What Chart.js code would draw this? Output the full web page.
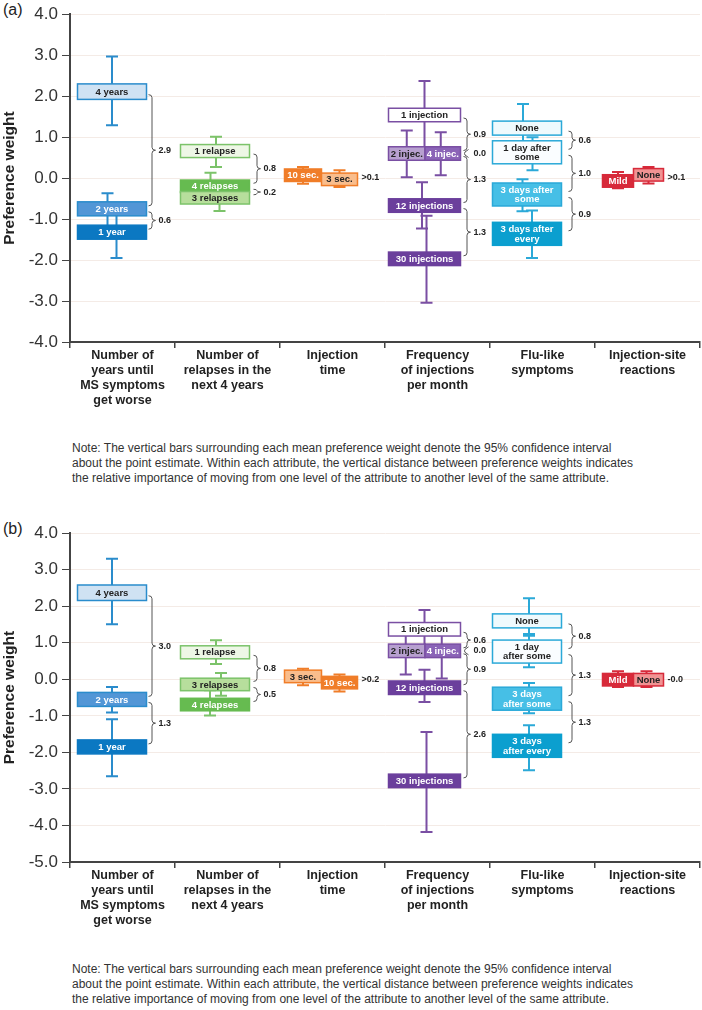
<!DOCTYPE html>
<html>
<head>
<meta charset="utf-8">
<script src="https://cdn.jsdelivr.net/npm/chart.js@4.4.1/dist/chart.umd.min.js"></script>
<style>
  html, body { margin: 0; padding: 0; background: #fff; }
  body { width: 702px; height: 1010px; position: relative; overflow: hidden; font-family: "Liberation Sans", Arial, sans-serif; }
  .panel { position: absolute; left: 0; width: 702px; }
  .tag { position: absolute; left: 3px; font-size: 16px; line-height: 20px; color: #222; }
  .note { position: absolute; left: 72px; font-size: 12px; line-height: 15px; color: #333; white-space: nowrap; }
</style>
</head>
<body>
<div class="tag" style="top:0">(a)</div>
<div class="panel" style="top:0;height:422px"><canvas id="chartA"></canvas></div>
<div class="note" style="top:441px">Note: The vertical bars surrounding each mean preference weight denote the 95% confidence interval<br>about the point estimate. Within each attribute, the vertical distance between preference weights indicates<br>the relative importance of moving from one level of the attribute to another level of the same attribute.</div>

<div class="tag" style="top:519px">(b)</div>
<div class="panel" style="top:519px;height:423px"><canvas id="chartB"></canvas></div>
<div class="note" style="top:962px">Note: The vertical bars surrounding each mean preference weight denote the 95% confidence interval<br>about the point estimate. Within each attribute, the vertical distance between preference weights indicates<br>the relative importance of moving from one level of the attribute to another level of the same attribute.</div>

<script>
// attributes (x categories)
const attributes = [
  ['Number of', 'years until', 'MS symptoms', 'get worse'],
  ['Number of', 'relapses in the', 'next 4 years'],
  ['Injection', 'time'],
  ['Frequency', 'of injections', 'per month'],
  ['Flu-like', 'symptoms'],
  ['Injection-site', 'reactions']
];

// panel (a)
const rangeA = [-4, 4];
const levelsA = [
  ['4 years', '2 years', '1 year'],
  ['1 relapse', '4 relapses', '3 relapses'],
  ['10 sec.', '3 sec.'],
  ['1 injection', '2 injec.', '4 injec.', '12 injections', '30 injections'],
  ['None', '1 day after\nsome', '3 days after\nsome', '3 days after\nevery'],
  ['Mild', 'None']
];
const meansA = [
  [2.11, -0.75, -1.32],
  [0.66, -0.20, -0.48],
  [0.07, -0.03],
  [1.54, 0.60, 0.60, -0.67, -1.97],
  [1.22, 0.63, -0.40, -1.36],
  [-0.07, 0.08]
];
const lowA = [
  [1.29, -1.30, -1.95],
  [0.27, -0.50, -0.80],
  [-0.14, -0.22],
  [0.70, 0.02, 0.07, -1.23, -3.04],
  [0.80, 0.19, -0.81, -1.95],
  [-0.25, -0.13]
];
const highA = [
  [2.97, -0.37, -0.75],
  [1.01, 0.13, -0.20],
  [0.27, 0.19],
  [2.37, 1.16, 1.12, -0.10, -0.92],
  [1.81, 1.00, -0.03, -0.79],
  [0.15, 0.27]
];
const diffsA = [
  ['2.9', '0.6'],
  ['0.8', '0.2'],
  ['>0.1'],
  ['0.9', '0.0', '1.3', '1.3'],
  ['0.6', '1.0', '0.9'],
  ['>0.1']
];

// panel (b)
const rangeB = [-5, 4];
const levelsB = [
  ['4 years', '2 years', '1 year'],
  ['1 relapse', '3 relapses', '4 relapses'],
  ['3 sec.', '10 sec.'],
  ['1 injection', '2 injec.', '4 injec.', '12 injections', '30 injections'],
  ['None', '1 day\nafter some', '3 days\nafter some', '3 days\nafter every'],
  ['Mild', 'None']
];
const meansB = [
  [2.37, -0.55, -1.85],
  [0.74, -0.14, -0.69],
  [0.08, -0.09],
  [1.37, 0.78, 0.78, -0.23, -2.78],
  [1.60, 0.76, -0.53, -1.82],
  [-0.01, -0.01]
];
const lowB = [
  [1.51, -0.91, -2.65],
  [0.42, -0.45, -0.99],
  [-0.16, -0.33],
  [0.90, 0.13, 0.02, -0.62, -4.18],
  [1.19, 0.33, -0.93, -2.49],
  [-0.21, -0.21]
];
const highB = [
  [3.30, -0.21, -1.09],
  [1.07, 0.17, -0.30],
  [0.29, 0.13],
  [1.90, 1.28, 1.28, 0.26, -1.44],
  [2.22, 1.24, -0.10, -1.26],
  [0.22, 0.22]
];
const diffsB = [
  ['3.0', '1.3'],
  ['0.8', '0.5'],
  ['>0.2'],
  ['0.6', '0.0', '0.9', '2.6'],
  ['0.8', '1.3', '1.3'],
  ['-0.0']
];

// ---- styles ----
const SANS = '"Liberation Sans", Arial, sans-serif';

const attrColors = ['#2a8ccc', '#7cc36a', '#f07d28', '#7a4fa3', '#2ba9d8', '#d72a3a'];
// [fill, text, stroke]
const levelStyles = [
  { '4 years': ['#cfe2f3', '#222', '#2a8ccc'], '2 years': ['#5296d6', '#fff', '#2a8ccc'], '1 year': ['#0b78c2', '#fff', '#0b78c2'] },
  { '1 relapse': ['#eef7e6', '#222', '#7cc36a'], '4 relapses': ['#66bb50', '#fff', '#66bb50'], '3 relapses': ['#b7de9c', '#222', '#7cc36a'] },
  { '10 sec.': ['#f07d28', '#fff', '#f07d28'], '3 sec.': ['#f9bd8c', '#222', '#f07d28'] },
  { '1 injection': ['#ffffff', '#222', '#7a4fa3'], '2 injec.': ['#b7a0cf', '#222', '#7a4fa3'], '4 injec.': ['#8b64b7', '#fff', '#7a4fa3'],
    '12 injections': ['#6b3f9c', '#fff', '#6b3f9c'], '30 injections': ['#6b3f9c', '#fff', '#6b3f9c'] },
  { 'None': ['#effafd', '#222', '#2ba9d8'], '1 day after some': ['#fafdff', '#222', '#2ba9d8'],
    '3 days after some': ['#46bfe6', '#fff', '#2ba9d8'], '3 days after every': ['#0b9fcf', '#fff', '#0b9fcf'] },
  { 'Mild': ['#d72a3a', '#fff', '#d72a3a'], 'None': ['#f19393', '#222', '#d72a3a'] }
];

// box extents in px from category centre, and split point for side-by-side levels
const boxSpan = [[-45, 24], [-47, 22], [-48, 25], [-49, 23], [-50, 19], [-45, 16]];
const splitAt = [0, 0, -11, -12.5, 0, -14];
const slots = [['f', 'f', 'f'], ['f', 'f', 'f'], ['l', 'r'], ['f', 'l', 'r', 'f', 'f'], ['f', 'f', 'f', 'f'], ['l', 'r']];
const boxHeights = [[15.5, 14, 14], [13, 12.5, 12.5], [12.5, 12.5], [13.5, 13.5, 13.5, 13.5, 13.5], [14, 23, 23, 23], [12.5, 12.5]];
const jitterA = [[0, -4.5, 4.5], [1, -4.5, 4.5], [0, 0], [0, 0, -2, -2.5, 2], [-4, 5.5, -4.5, 5], [0, 0]];
const jitterB = [[0, 0, 0], [1, 6, -5], [0, 0], [0, -1, -1, 0, 2], [2, 2, 2, 2], [0, -2]];

function slotSpan(i, s) {
  const [l, r] = boxSpan[i];
  if (s === 'l') return [l, splitAt[i]];
  if (s === 'r') return [splitAt[i], r];
  return [l, r];
}

function brace(ctx, x, y1, y2, w) {
  const mid = (y1 + y2) / 2;
  const r = Math.min(3, Math.abs(y2 - y1) / 4);
  const xm = x + w * 0.5;
  ctx.beginPath();
  ctx.moveTo(x, y1);
  ctx.quadraticCurveTo(xm, y1, xm, y1 + r);
  ctx.lineTo(xm, mid - r);
  ctx.quadraticCurveTo(xm, mid, x + w, mid);
  ctx.quadraticCurveTo(xm, mid, xm, mid + r);
  ctx.lineTo(xm, y2 - r);
  ctx.quadraticCurveTo(xm, y2, x, y2);
  ctx.stroke();
}

function drawPanel(chart, p) {
  const ctx = chart.ctx;
  const xs = chart.scales.x, ys = chart.scales.y;
  ctx.save();
  attributes.forEach(function (_, i) {
    const c = xs.getPixelForValue(i);
    const boxes = p.levels[i].map(function (lab, j) {
      const span = slotSpan(i, slots[i][j]);
      return { l: c + span[0], r: c + span[1], cy: ys.getPixelForValue(p.means[i][j]), h: boxHeights[i][j], lab: lab };
    });

    // confidence intervals
    ctx.strokeStyle = attrColors[i];
    ctx.lineWidth = 2;
    boxes.forEach(function (b, j) {
      const ex = (b.l + b.r) / 2 + p.jitter[i][j];
      const top = ys.getPixelForValue(p.high[i][j]);
      const bot = ys.getPixelForValue(p.low[i][j]);
      ctx.beginPath();
      ctx.moveTo(ex, top); ctx.lineTo(ex, bot);
      ctx.moveTo(ex - 6, top); ctx.lineTo(ex + 6, top);
      ctx.moveTo(ex - 6, bot); ctx.lineTo(ex + 6, bot);
      ctx.stroke();
    });

    // level boxes
    boxes.forEach(function (b) {
      const key = b.lab.replace('\n', ' ');
      const st = levelStyles[i][key];
      ctx.fillStyle = st[0];
      ctx.strokeStyle = st[2];
      ctx.lineWidth = 1.5;
      ctx.fillRect(b.l, b.cy - b.h / 2, b.r - b.l, b.h);
      ctx.strokeRect(b.l, b.cy - b.h / 2, b.r - b.l, b.h);
      ctx.fillStyle = st[1];
      ctx.font = 'bold 9.5px ' + SANS;
      ctx.textAlign = 'center';
      ctx.textBaseline = 'middle';
      const lines = b.lab.split('\n');
      lines.forEach(function (t, k) {
        ctx.fillText(t, (b.l + b.r) / 2, b.cy + (k - (lines.length - 1) / 2) * 9.5 + 0.5);
      });
    });

    // differences between levels
    ctx.strokeStyle = '#555';
    ctx.lineWidth = 1;
    ctx.fillStyle = '#222';
    ctx.font = 'bold 9px ' + SANS;
    ctx.textAlign = 'left';
    ctx.textBaseline = 'middle';
    const sideBySide = slots[i].every(function (s) { return s !== 'f'; });
    if (sideBySide) {
      const my = boxes.reduce(function (a, b) { return a + b.cy; }, 0) / boxes.length;
      ctx.fillText(p.diffs[i][0], c + boxSpan[i][1] + 4, my);
    } else {
      p.diffs[i].forEach(function (d, j) {
        const ya = boxes[j].cy, yb = boxes[j + 1].cy;
        if (yb - ya < 6) {
          const ym = (ya + yb) / 2;
          ctx.beginPath();
          ctx.moveTo(c + 31, ym - 4);
          ctx.quadraticCurveTo(c + 26, ym - 1, c + 27, ym);
          ctx.quadraticCurveTo(c + 26, ym + 1, c + 31, ym + 4);
          ctx.stroke();
          ctx.fillText(d, c + 36, ym);
        } else {
          const y1 = ya + 3, y2 = yb - 3;
          brace(ctx, c + 26, y1, y2, 7);
          ctx.fillText(d, c + 36, (y1 + y2) / 2);
        }
      });
    }
  });
  ctx.restore();
}

function makeChart(id, range, panel) {
  return new Chart(document.getElementById(id), {
    type: 'line',
    data: { labels: attributes, datasets: [] },
    options: {
      responsive: true,
      maintainAspectRatio: false,
      animation: false,
      layout: { padding: { top: 10, right: 2, left: 0, bottom: 0 } },
      plugins: { legend: { display: false }, tooltip: { enabled: false } },
      scales: {
        x: {
          type: 'category',
          offset: true,
          grid: { offset: true, drawOnChartArea: false, drawTicks: true, tickLength: 6, color: '#444', lineWidth: 1.5 },
          border: { display: true, color: '#444', width: 2 },
          ticks: { color: '#222', autoSkip: false, maxRotation: 0, padding: 0,
                   font: { family: SANS, size: 12.5, weight: 'bold', lineHeight: 1.2 } },
          afterFit: function (s) { s.height = 80; }
        },
        y: {
          min: range[0],
          max: range[1],
          ticks: { stepSize: 1, padding: 4, color: '#333', font: { family: SANS, size: 17 },
                   callback: function (v) { return v.toFixed(1); } },
          grid: { color: '#f4ebe6', tickColor: '#444', tickLength: 8, lineWidth: 1 },
          border: { display: true, color: '#444', width: 2 },
          title: { display: true, text: 'Preference weight', color: '#222', padding: 0,
                   font: { family: SANS, size: 15.5, weight: 'bold' } },
          afterFit: function (s) { s.width = 70; }
        }
      }
    },
    plugins: [{ id: 'levels', afterDatasetsDraw: function (chart) { drawPanel(chart, panel); } }]
  });
}

makeChart('chartA', rangeA, { levels: levelsA, means: meansA, low: lowA, high: highA, diffs: diffsA, jitter: jitterA });
makeChart('chartB', rangeB, { levels: levelsB, means: meansB, low: lowB, high: highB, diffs: diffsB, jitter: jitterB });
</script>
</body>
</html>
